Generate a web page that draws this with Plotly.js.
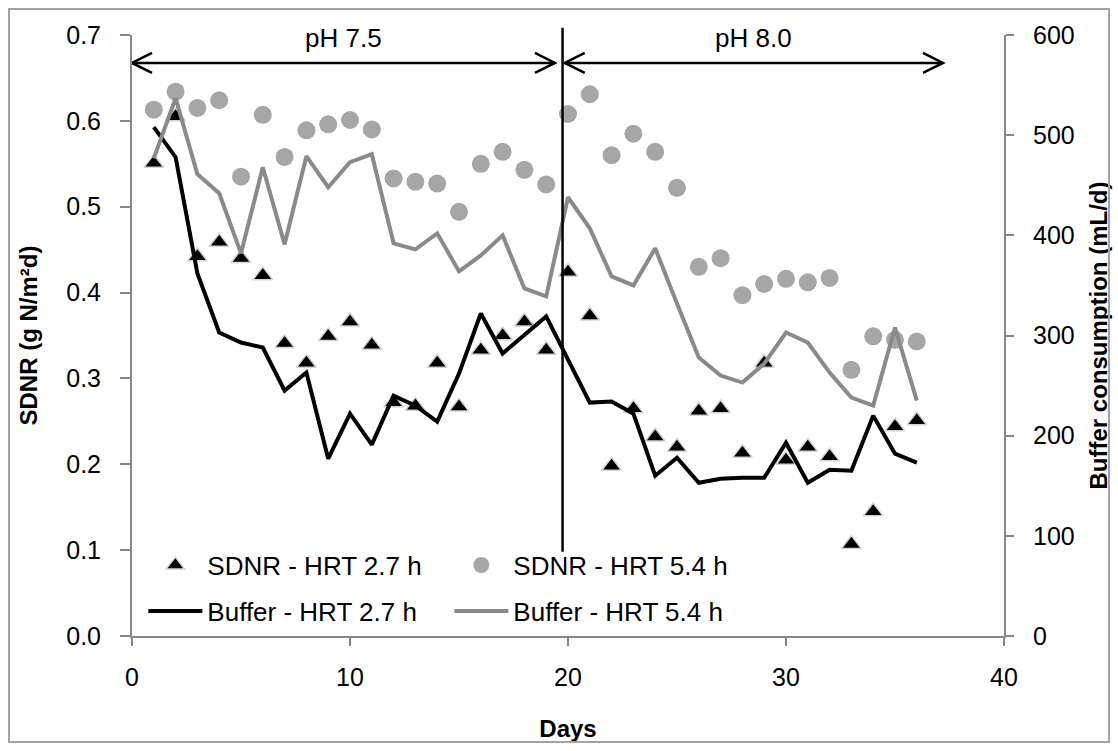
<!DOCTYPE html>
<html>
<head>
<meta charset="utf-8">
<script src="https://cdn.plot.ly/plotly-3.0.1.min.js"></script>
<style>
  html, body { margin: 0; padding: 0; background: #fff; }
  #wrap { position: relative; width: 1118px; height: 751px; }
  #chart { width: 1118px; height: 751px; }
  #frame { position: absolute; left: 8px; top: 8px; right: 8px; bottom: 8px;
           border: 2px solid #a3a3a3; box-sizing: border-box; pointer-events: none; }
</style>
</head>
<body>
<div id="wrap"><div id="chart"></div><div id="frame"></div></div>
<script>
// ---- data ----
const days = [1,2,3,4,5,6,7,8,9,10,11,12,13,14,15,16,17,18,19,20,21,22,23,24,25,26,27,28,29,30,31,32,33,34,35,36];
const sdnrHrt27 = [0.551,0.605,0.442,0.459,0.440,0.420,0.341,0.318,0.349,0.366,0.339,0.272,0.268,0.318,0.267,0.333,0.350,0.366,0.333,0.424,0.373,0.198,0.265,0.232,0.220,0.262,0.265,0.213,0.318,0.205,0.220,0.209,0.107,0.145,0.244,0.251];
const sdnrHrt54 = [0.613,0.634,0.615,0.624,0.535,0.607,0.558,0.589,0.596,0.601,0.590,0.533,0.529,0.527,0.494,0.550,0.564,0.543,0.526,0.608,0.631,0.560,0.585,0.564,0.522,0.430,0.440,0.397,0.410,0.416,0.412,0.417,0.310,0.349,0.345,0.343];
const bufferHrt27 = [508,478,362,303,293,288,245,263,177,222,191,240,230,214,262,322,282,301,319,276,233,234,222,160,178,153,157,158,158,193,153,166,165,220,182,173];
const bufferHrt54 = [477,537,461,442,382,468,391,479,448,473,481,392,386,402,364,380,400,347,339,438,407,359,350,387,332,278,260,253,272,303,293,263,238,230,308,235];
const seriesNames = ['SDNR - HRT 2.7 h','SDNR - HRT 5.4 h','Buffer - HRT 2.7 h','Buffer - HRT 5.4 h'];
const phaseLabels = ['pH 7.5','pH 8.0'];
const phaseStart = [0, 19.85];
const phaseEnd = [19.4, 37.2];
const phaseChangeDay = 19.75;
const xTitle = 'Days';
const yTitle = 'SDNR (g N/m²d)';
const y2Title = 'Buffer consumption (mL/d)';

// ---- layout constants ----
const W = 1118, H = 751;
const M = {l: 132, r: 114, t: 35, b: 115};
const xRange = [0, 40], yRange = [0, 0.7], y2Range = [0, 600];
const plotW = W - M.l - M.r, plotH = H - M.t - M.b;
const dayPerPx = (xRange[1] - xRange[0]) / plotW;
const yPerPx = (yRange[1] - yRange[0]) / plotH;

const FONT = 'Liberation Sans, Arial, sans-serif';
const AXIS_GRAY = '#878787';

const traces = [
  {x: days, y: sdnrHrt27, name: seriesNames[0], type: 'scatter', mode: 'markers',
   marker: {symbol: 'triangle-up', size: 17, color: '#000', line: {color: '#d4d4d4', width: 1.5}},
   legend: 'legend', yaxis: 'y'},
  {x: days, y: sdnrHrt54, name: seriesNames[1], type: 'scatter', mode: 'markers',
   marker: {symbol: 'circle', size: 18, color: '#a6a6a6'},
   legend: 'legend', yaxis: 'y'},
  {x: days, y: bufferHrt27, name: seriesNames[2], type: 'scatter', mode: 'lines',
   line: {color: '#000', width: 4}, legend: 'legend2', yaxis: 'y2'},
  {x: days, y: bufferHrt54, name: seriesNames[3], type: 'scatter', mode: 'lines',
   line: {color: '#8a8a8a', width: 4}, legend: 'legend2', yaxis: 'y2'}
];

// arrows with open chevron heads
const arrowY = 0.6674;
const headDx = 20 * dayPerPx, headDy = 10 * yPerPx;
const shapes = [];
const annotations = [];
for (let i = 0; i < phaseLabels.length; i++) {
  const a = phaseStart[i], b = phaseEnd[i];
  shapes.push({type: 'line', xref: 'x', yref: 'y', x0: a, x1: b, y0: arrowY, y1: arrowY,
               line: {color: '#000', width: 2.5}});
  shapes.push({type: 'path', xref: 'x', yref: 'y',
               path: `M${a + headDx},${arrowY + headDy} L${a},${arrowY} L${a + headDx},${arrowY - headDy}`,
               line: {color: '#000', width: 2.5}});
  shapes.push({type: 'path', xref: 'x', yref: 'y',
               path: `M${b - headDx},${arrowY + headDy} L${b},${arrowY} L${b - headDx},${arrowY - headDy}`,
               line: {color: '#000', width: 2.5}});
  annotations.push({text: phaseLabels[i], xref: 'x', yref: 'y', x: (a + b) / 2, y: 0.6965,
                    showarrow: false, xanchor: 'center', yanchor: 'middle',
                    font: {family: FONT, size: 26, color: '#000'}});
}
shapes.push({type: 'line', xref: 'x', yref: 'paper', x0: phaseChangeDay, x1: phaseChangeDay,
             y0: 0.14, y1: 1.012, line: {color: '#000', width: 2.5}});

const legendCommon = {orientation: 'h', xanchor: 'left', yanchor: 'middle', x: 0.013,
  bgcolor: 'rgba(0,0,0,0)', borderwidth: 0, itemwidth: 54, entrywidth: 237,
  font: {family: FONT, size: 26, color: '#000'}, itemclick: false};

const layout = {
  width: W, height: H, margin: M,
  paper_bgcolor: '#fff', plot_bgcolor: '#fff',
  font: {family: FONT, size: 25, color: '#000'},
  showlegend: true,
  legend: Object.assign({}, legendCommon, {y: 0.118}),
  legend2: Object.assign({}, legendCommon, {y: 0.0416}),
  xaxis: {range: xRange, dtick: 10, tick0: 0, showline: true, linecolor: AXIS_GRAY, linewidth: 2,
          ticks: 'outside', ticklen: 8, tickwidth: 2, tickcolor: AXIS_GRAY, showgrid: false, zeroline: false,
          ticklabelstandoff: 10,
          tickfont: {family: FONT, size: 25, color: '#000'},
          title: {text: xTitle, standoff: 30, font: {family: FONT, size: 24, color: '#000', weight: 'bold'}}},
  yaxis: {range: yRange, dtick: 0.1, tick0: 0, tickformat: '.1f', showline: true, linecolor: AXIS_GRAY, linewidth: 2,
          ticks: 'outside', ticklen: 10, tickwidth: 2, tickcolor: AXIS_GRAY, showgrid: false, zeroline: false,
          ticklabelstandoff: 14,
          tickfont: {family: FONT, size: 25, color: '#000'},
          title: {text: yTitle, standoff: 22, font: {family: FONT, size: 24, color: '#000', weight: 'bold'}}},
  yaxis2: {range: y2Range, dtick: 100, tick0: 0, overlaying: 'y', side: 'right', showline: true,
           linecolor: AXIS_GRAY, linewidth: 2, ticks: 'outside', ticklen: 8, tickwidth: 2, tickcolor: AXIS_GRAY,
           showgrid: false, zeroline: false, ticklabelstandoff: 14,
           tickfont: {family: FONT, size: 25, color: '#000'},
           title: {text: y2Title, standoff: 16, font: {family: FONT, size: 24, color: '#000', weight: 'bold'}}},
  shapes: shapes,
  annotations: annotations
};

Plotly.newPlot('chart', traces, layout, {displayModeBar: false, staticPlot: true});
</script>
</body>
</html>
